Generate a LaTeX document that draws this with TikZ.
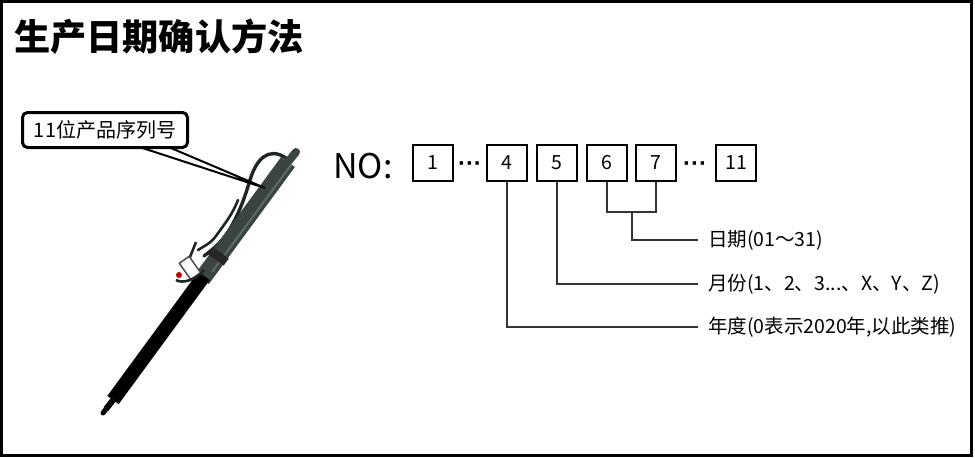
\documentclass[tikz,border=0pt]{standalone}
\usepackage{fontspec}
\setmainfont{Noto Sans CJK SC}
\newfontfamily\dotfont{Liberation Sans}
\definecolor{cyl}{HTML}{3A4540}
\definecolor{cylhi}{HTML}{5C6A64}
\definecolor{cablec}{HTML}{1F2624}
\definecolor{conncol}{HTML}{333333}
\begin{document}
\begin{tikzpicture}[x=1pt,y=-1pt,
  digit/.style={draw, line width=2.4pt, minimum width=40pt, minimum height=36pt, inner sep=0pt, font=\fontsize{19.5}{19.5}\selectfont},
  lbl/.style={anchor=west, inner sep=0pt, font=\fontsize{19.5}{21}\selectfont},
  conn/.style={line width=1.2pt, draw=conncol},
  dots/.style={inner sep=0pt, anchor=base, font=\fontsize{24}{24}\selectfont\dotfont\bfseries}]
\useasboundingbox (0,0) rectangle (975,458);
\draw[line width=3pt] (1.5,1.5) rectangle (971.5,455.5);

% title
\node[anchor=west, inner sep=0pt, font=\fontsize{36.2}{37}\selectfont\bfseries] (title) at (14,37) {生产日期确认方法};

% product photo (drawn)
\draw[line width=3.4pt, cablec, line cap=round] (286,158) .. controls (268,146) and (256,160) .. (250,180) .. controls (244,200) and (238,216) .. (228,232) .. controls (220,244) and (212,250) .. (204,256);
\draw[line width=2.6pt, cablec, line cap=round] (238,200) .. controls (232,215) and (226,222) .. (216,236) .. controls (210,244) and (204,246) .. (198,250);
\draw[line width=8pt, cyl, line cap=round] (296,152) -- (288,162);
\draw[line width=17pt, cyl] (288,162) -- (202,279);
\draw[line width=2pt, cylhi] (291,165) -- (212,272);
\draw[line width=19pt, black!85] (221,253) -- (216,260);
\draw[line width=14pt, black] (204,276) -- (113,400);
\draw[line width=6pt, black] (113,400) -- (106,409);
\draw[line width=5pt, black, line cap=round] (106,409) -- (103,413);
% connector
\draw[line width=2.6pt, cablec] (196,242) -- (188,262);
\draw[fill=white, draw=black!70, line width=1.5pt, rotate around={-55:(190,268)}] (180,262) rectangle (200,274);
\fill[red!75!black] (179,275) circle (3pt);
\draw[line width=2.6pt, cablec] (176,280) .. controls (182,284) and (196,280) .. (204,270);

% callout
\coordinate (tip) at (265,188);
\coordinate (w1) at (118,140);
\coordinate (w2) at (152,140);
\fill[white, draw=black, line width=2pt] (w1) -- (tip) -- (w2);
\node[draw, line width=3pt, rounded corners=5pt, fill=white, minimum width=165pt, minimum height=35pt, inner sep=0pt, font=\fontsize{20}{21}\selectfont] (call) at (105,130) {11位产品序列号};

% NO and boxes
\node[anchor=west, inner sep=0pt, font=\fontsize{34}{34}\selectfont] (no) at (333,166) {NO:};
\node[digit] (b1) at (433,163) {1};
\node[dots] (d1) at (470,171) {···};
\node[digit] (b4) at (507,163) {4};
\node[digit] (b5) at (557,163) {5};
\node[digit] (b6) at (607,163) {6};
\node[digit] (b7) at (656,163) {7};
\node[dots] (d2) at (695,171) {···};
\node[digit] (b11) at (736,163) {11};

% labels
\node[lbl] (l1) at (708,240) {日期(01～31)};
\node[lbl] (l2) at (708,284) {月份(1、2、3...、X、Y、Z)};
\node[lbl] (l3) at (708,327) {年度(0表示2020年,以此类推)};

% connectors
\coordinate (j) at (632,212);
\draw[conn] (b6.south) |- (j) -| (b7.south);
\draw[conn] (j) |- ([xshift=-10pt]l1.west);
\draw[conn] (b5.south) |- ([xshift=-10pt]l2.west);
\draw[conn] (b4.south) |- ([xshift=-10pt]l3.west);
\end{tikzpicture}
\end{document}
